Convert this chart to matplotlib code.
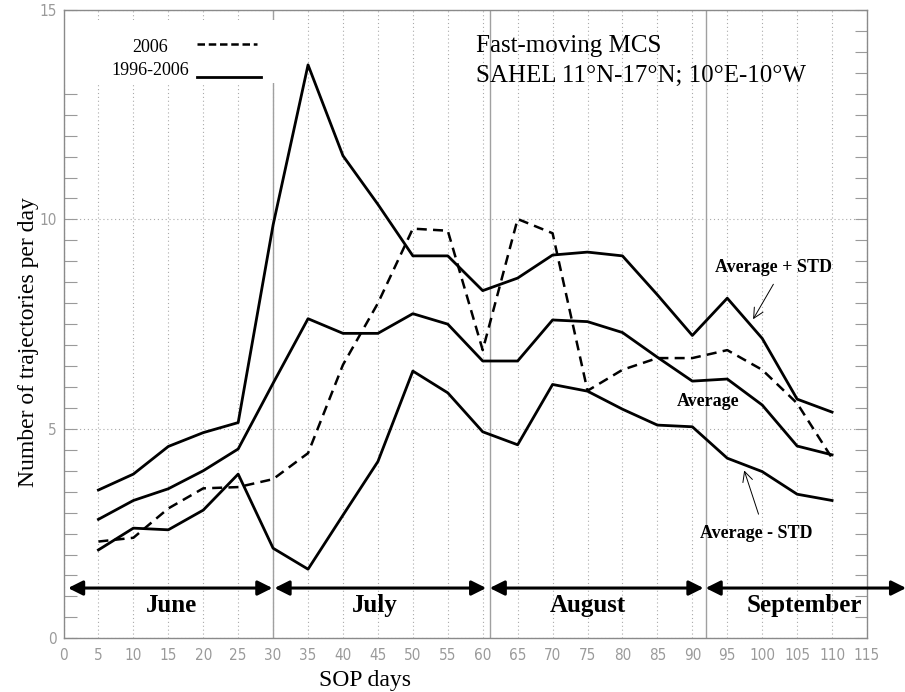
import numpy as np
import matplotlib
matplotlib.use('Agg')
import matplotlib.pyplot as plt
from matplotlib.patches import Rectangle

# SOP days and number of trajectories per day
days = [5, 10, 15, 20, 25, 30, 35, 40, 45, 50, 55, 60, 65, 70, 75, 80, 85, 90, 95, 100, 105, 110]
avg_plus_std = [3.54, 3.92, 4.58, 4.91, 5.15, 9.87, 13.69, 11.52, 10.36, 9.13, 9.13, 8.30,
                8.60, 9.15, 9.22, 9.13, 8.20, 7.23, 8.12, 7.16, 5.71, 5.40]
average = [2.84, 3.29, 3.57, 4.00, 4.52, 6.09, 7.63, 7.28, 7.28, 7.75, 7.50, 6.62,
           6.62, 7.60, 7.56, 7.30, 6.71, 6.14, 6.19, 5.57, 4.59, 4.38]
avg_minus_std = [2.11, 2.63, 2.59, 3.06, 3.92, 2.15, 1.65, 2.94, 4.22, 6.38, 5.86, 4.93,
                 4.62, 6.06, 5.90, 5.47, 5.09, 5.05, 4.30, 3.98, 3.44, 3.29]
year_2006 = [2.31, 2.40, 3.10, 3.58, 3.61, 3.80, 4.42, 6.53, 8.00, 9.78, 9.73, 6.88,
             10.01, 9.67, 5.91, 6.41, 6.69, 6.69, 6.88, 6.41, 5.61, 4.30]

months = ['June', 'July', 'August', 'September']
month_start = [0.65, 30.2, 61.0, 91.9]
month_end = [29.9, 60.5, 91.6, 120.6]
month_center = [15.5, 44.5, 75.0, 106.0]
month_sep = [30, 61, 92]

serif = 'Liberation Serif'
gray = '#9a9a9a'

fig = plt.figure(figsize=(9.05, 6.92), dpi=100)
ax = fig.add_axes([63.5 / 905, 1 - 638.3 / 692, (867 - 63.5) / 905, (638.3 - 10) / 692])

ax.set_xlim(0, 115)
ax.set_ylim(0, 15)
ax.set_xticks(np.arange(0, 116, 5))
ax.set_yticks([0, 5, 10, 15])
ax.set_yticks(np.arange(0, 15.01, 0.5), minor=True)
ax.tick_params(axis='x', length=0, pad=7, labelsize=11, labelcolor=gray)
ax.tick_params(axis='y', which='both', direction='in', length=9, width=0.8, color=gray,
               left=True, right=True, pad=5, labelsize=11, labelcolor=gray)
for lab in ax.get_xticklabels() + ax.get_yticklabels():
    lab.set_fontstretch('condensed')
    lab.set_fontweight('light')

ax.set_axisbelow(True)
ax.grid(True, which='major', color='#aaaaaa', linestyle=(0, (1, 2.5)), linewidth=0.8)
for sp in ax.spines.values():
    sp.set_color('#8a8a8a')
    sp.set_linestyle((0, (1, 1)))
    sp.set_linewidth(1.0)

for xs in month_sep:
    ax.axvline(xs, color='#a0a0a0', linewidth=1.0, zorder=1)

# white patch behind the legend
ax.add_patch(Rectangle((0.1, 13.26), 31.5, 1.5, facecolor='white', edgecolor='none', zorder=1.5))

ax.plot(days, avg_plus_std, color='black', linewidth=2, zorder=3)
ax.plot(days, average, color='black', linewidth=2, zorder=3)
ax.plot(days, avg_minus_std, color='black', linewidth=2, zorder=3)
ax.plot(days, year_2006, color='black', linewidth=1.8, linestyle=(0, (4, 2.5)), zorder=3)

# legend
ax.text(0.1077, 0.9336, '2006', transform=ax.transAxes, ha='center', va='baseline',
        fontsize=13, family=serif)
ax.text(0.1077, 0.8965, '1996-2006', transform=ax.transAxes, ha='center', va='baseline',
        fontsize=13, family=serif)
ax.plot([0.166, 0.241], [0.9459, 0.9459], transform=ax.transAxes, color='black',
        linewidth=1.8, linestyle=(0, (3, 1.5)), zorder=4)
ax.plot([0.166, 0.246], [0.8941, 0.8941], transform=ax.transAxes, color='black',
        linewidth=2, zorder=4)

ax.text(0.513, 0.9327, 'Fast-moving MCS', transform=ax.transAxes, ha='left', va='baseline',
        fontsize=18, family=serif)
ax.text(0.513, 0.885, 'SAHEL 11°N-17°N; 10°E-10°W', transform=ax.transAxes, ha='left',
        va='baseline', fontsize=18, family=serif)

# curve labels
ax.text(101.6, 8.75, 'Average + STD', ha='center', va='baseline', fontsize=13,
        fontweight='bold', family=serif)
ax.text(92.2, 5.55, 'Average', ha='center', va='baseline', fontsize=13,
        fontweight='bold', family=serif)
ax.text(99.2, 2.39, 'Average - STD', ha='center', va='baseline', fontsize=13,
        fontweight='bold', family=serif)
ax.annotate('', xy=(98.5, 7.56), xytext=(101.8, 8.51),
            arrowprops=dict(arrowstyle='->', color='black', lw=0.7, mutation_scale=18))
ax.annotate('', xy=(97.3, 4.07), xytext=(99.6, 2.90),
            arrowprops=dict(arrowstyle='->', color='black', lw=0.7, mutation_scale=18))

# month arrows
for name, x0, x1, xc in zip(months, month_start, month_end, month_center):
    ax.annotate('', xy=(x1, 1.2), xytext=(x0, 1.2), annotation_clip=False,
                arrowprops=dict(arrowstyle='<|-|>', color='black', lw=2.2,
                                mutation_scale=22, shrinkA=0, shrinkB=0))
    ax.text(xc, 0.635, name, ha='center', va='baseline', fontsize=18,
            fontweight='bold', family=serif)

fig.text(365 / 905, 1 - 686 / 692, 'SOP days', ha='center', va='baseline',
         fontsize=17, family=serif)
fig.text(29 / 905, 1 - 342 / 692, 'Number of trajectories per day', ha='center',
         va='center', rotation=90, fontsize=17, family=serif)

fig.savefig('out.png', dpi=100)
